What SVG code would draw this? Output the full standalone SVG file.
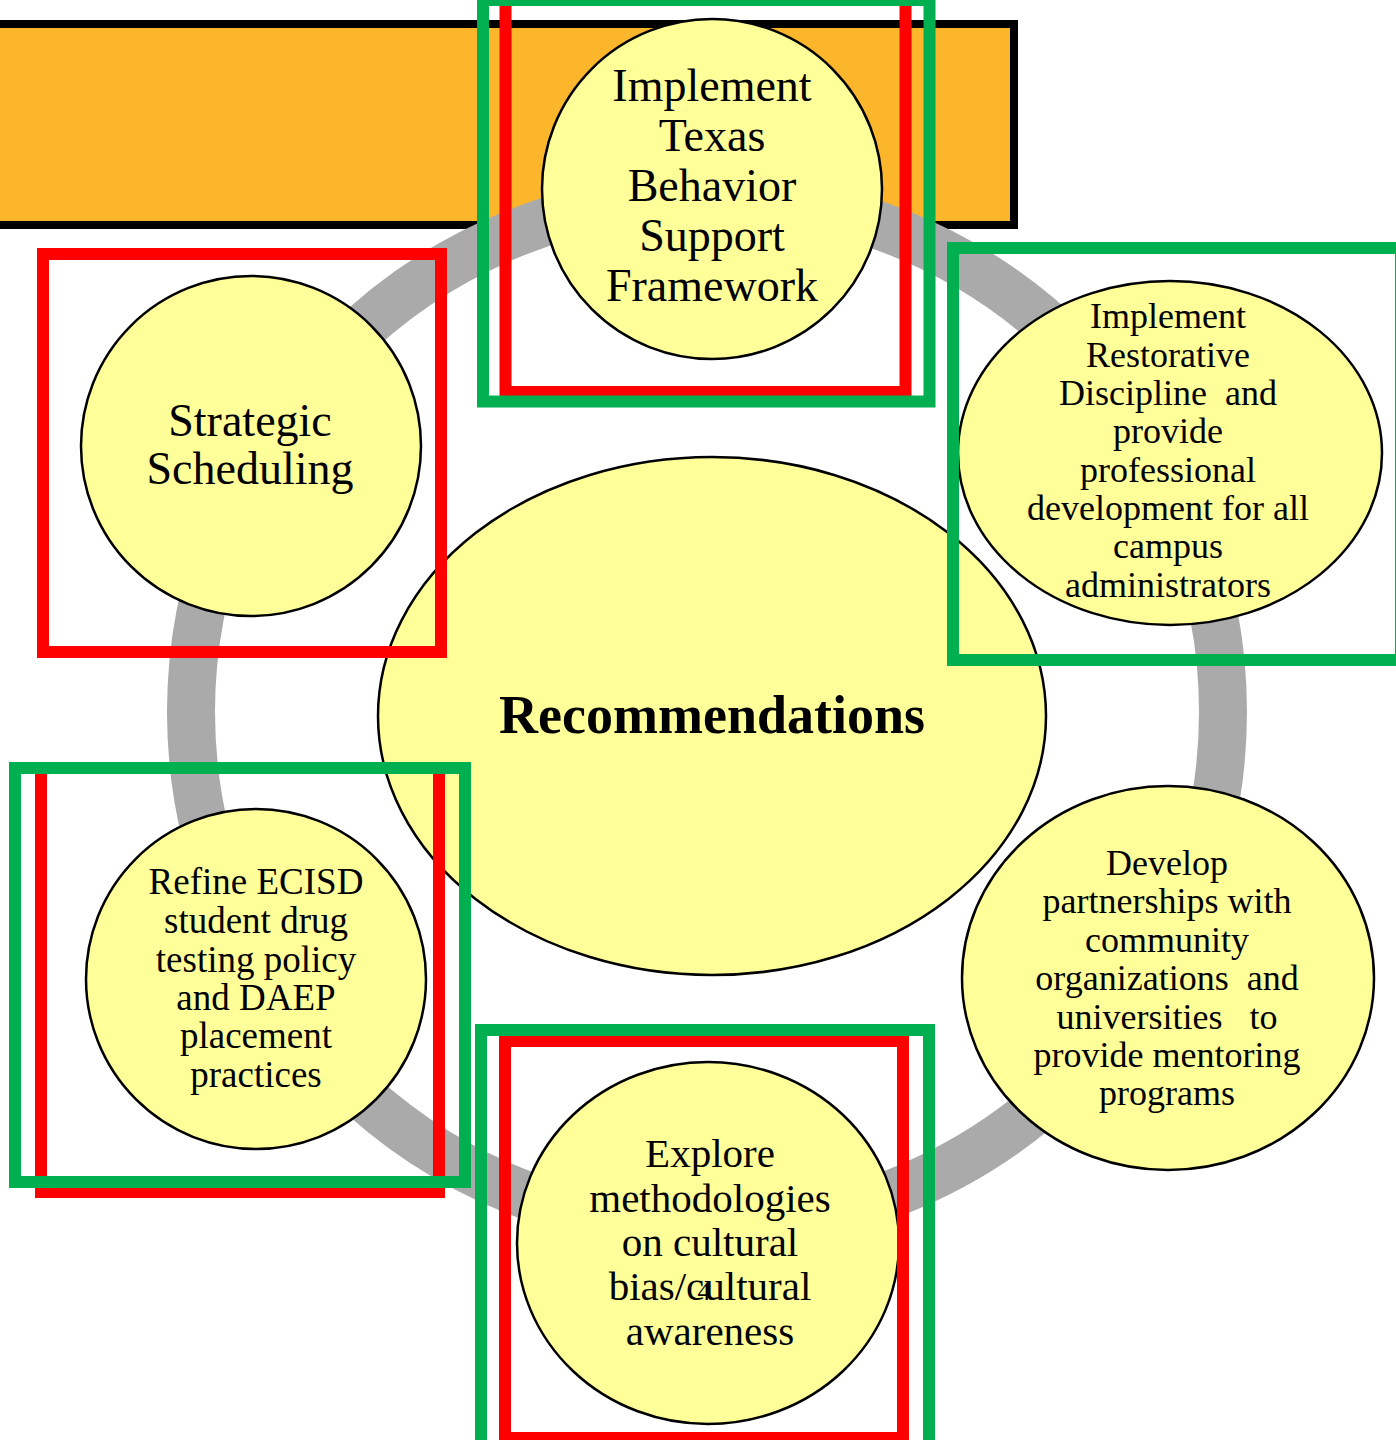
<svg xmlns="http://www.w3.org/2000/svg" width="1396" height="1440" viewBox="0 0 1396 1440">
<style>
.node{fill:#FFFF99;stroke:#000;stroke-width:2.5}
.t{font-family:"Liberation Serif","Times New Roman",serif;fill:#000;text-anchor:middle}
.red{fill:none;stroke:#FF0000;stroke-width:12}
.green{fill:none;stroke:#00B050;stroke-width:12}
</style>
<rect x="-20" y="24" width="1034" height="201" fill="#FBB62B" stroke="#000" stroke-width="8"/>
<g id="connectors">
<circle cx="707" cy="712" r="516" fill="none" stroke="#AAAAAA" stroke-width="48"/>
</g>
<g id="center">
<ellipse class="node" cx="712" cy="716" rx="334" ry="259"/>
<text class="t" x="712" y="733" font-size="54" font-weight="bold">Recommendations</text>
</g>
<g id="n-texas">
<circle class="node" cx="712" cy="189" r="170"/>
<text class="t" font-size="46"><tspan x="712" y="101">Implement</tspan><tspan x="712" y="151">Texas</tspan><tspan x="712" y="201">Behavior</tspan><tspan x="712" y="251">Support</tspan><tspan x="712" y="301">Framework</tspan></text>
</g>
<g id="n-restorative">
<ellipse class="node" cx="1170" cy="453" rx="212" ry="172"/>
<text class="t" font-size="36" xml:space="preserve"><tspan x="1168" y="328">Implement</tspan><tspan x="1168" y="367">Restorative</tspan><tspan x="1168" y="405">Discipline  and</tspan><tspan x="1168" y="443">provide</tspan><tspan x="1168" y="482">professional</tspan><tspan x="1168" y="520">development for all</tspan><tspan x="1168" y="558">campus</tspan><tspan x="1168" y="597">administrators</tspan></text>
</g>
<g id="n-partnerships">
<ellipse class="node" cx="1168" cy="978" rx="206" ry="192"/>
<text class="t" font-size="36" xml:space="preserve"><tspan x="1167" y="875">Develop</tspan><tspan x="1167" y="913">partnerships with</tspan><tspan x="1167" y="952">community</tspan><tspan x="1167" y="990">organizations  and</tspan><tspan x="1167" y="1029">universities   to</tspan><tspan x="1167" y="1067">provide mentoring</tspan><tspan x="1167" y="1105">programs</tspan></text>
</g>
<g id="n-cultural">
<ellipse class="node" cx="708" cy="1243" rx="191" ry="181"/>
<text class="t" font-size="41"><tspan x="710" y="1167">Explore</tspan><tspan x="710" y="1212">methodologies</tspan><tspan x="710" y="1256">on cultural</tspan><tspan x="710" y="1300">bias/cultural</tspan><tspan x="710" y="1345">awareness</tspan></text>
<text class="t" x="704" y="1300" font-size="26">4</text>
</g>
<g id="n-drug">
<circle class="node" cx="256" cy="979" r="170"/>
<text class="t" font-size="37"><tspan x="256" y="894">Refine ECISD</tspan><tspan x="256" y="933">student drug</tspan><tspan x="256" y="972">testing policy</tspan><tspan x="256" y="1010">and DAEP</tspan><tspan x="256" y="1048">placement</tspan><tspan x="256" y="1087">practices</tspan></text>
</g>
<g id="n-scheduling">
<circle class="node" cx="251" cy="446" r="170"/>
<text class="t" font-size="46"><tspan x="250" y="436">Strategic</tspan><tspan x="250" y="484">Scheduling</tspan></text>
</g>
<g id="frames">
<rect class="red" x="505.5" y="-2" width="400" height="394"/>
<rect class="green" x="483" y="0" width="446.5" height="401.5"/>
<rect class="red" x="43" y="254" width="398" height="398"/>
<rect class="green" x="953" y="248" width="448" height="412"/>
<rect class="red" x="41" y="768" width="398" height="424"/>
<rect class="green" x="15" y="768" width="450" height="414"/>
<rect class="red" x="505" y="1041" width="398" height="397"/>
<rect class="green" x="481" y="1030" width="448" height="420"/>
</g>
</svg>
